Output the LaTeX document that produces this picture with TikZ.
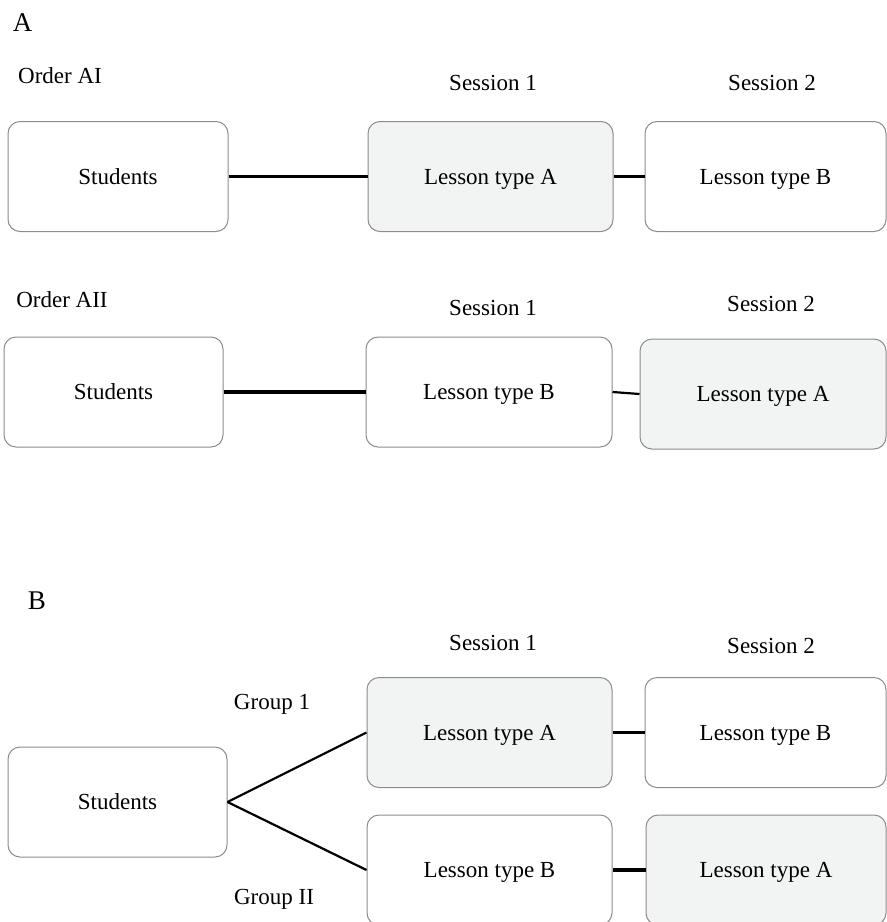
\documentclass[tikz,border=0pt]{standalone}
\usepackage{fontspec}
\setmainfont{Liberation Serif}
\definecolor{boxline}{HTML}{8C8C8C}
\definecolor{boxfill}{HTML}{F2F3F3}
\begin{document}
\begin{tikzpicture}[x=1pt,y=-1pt,
  box/.style={draw=boxline, line width=1pt, rounded corners=12pt, fill=white,
    minimum width=#1, minimum height=110pt, inner sep=0pt,
    text height=15.5pt, text depth=0pt,
    font=\fontsize{23}{27}\selectfont},
  box/.default=245pt,
  shaded/.style={fill=boxfill},
  lbl/.style={inner sep=0pt, text height=15.5pt, text depth=0pt,
    font=\fontsize{23}{27}\selectfont},
  panel/.style={inner sep=0pt, text height=18pt, text depth=0pt,
    font=\fontsize{27}{31}\selectfont},
  conn/.style={line width=3.2pt, black},
  thinconn/.style={line width=2.2pt, black}]
\useasboundingbox (0,0) rectangle (887,922);

% ---------- Panel A ----------
\node[panel] (labA) at (22.5,22) {A};

% Order AI
\node[lbl] (oA1) at (60,76) {Order AI};
\node[lbl] (s1a) at (493,83) {Session 1};
\node[lbl] (s2a) at (772,83) {Session 2};
\node[box=220pt] (stA1) at (118,176.5) {Students};
\node[box=245pt, shaded] (laA1) at (490.5,176.5) {Lesson type A};
\node[box=241pt] (lbA1) at (765.5,176.5) {Lesson type B};
\draw[conn] (stA1.east) -- (laA1.west);
\draw[conn] (laA1.east) -- (lbA1.west);

% Order AII
\node[lbl] (oA2) at (62,300) {Order AII};
\node[lbl] (s1b) at (493,308) {Session 1};
\node[lbl] (s2b) at (771,304) {Session 2};
\node[box=219pt] (stA2) at (113.5,392) {Students};
\node[box=246pt] (lbA2) at (489,392) {Lesson type B};
\node[box=246pt, shaded] (laA2) at (763,394) {Lesson type A};
\draw[conn] (stA2.east) -- (lbA2.west);
\draw[thinconn] (lbA2.east) -- (laA2.west);

% ---------- Panel B ----------
\node[panel] (labB) at (37,600) {B};
\node[lbl] (s1c) at (493,643) {Session 1};
\node[lbl] (s2c) at (771,646) {Session 2};
\node[lbl] (g1) at (272,702) {Group 1};
\node[lbl] (g2) at (274,897) {Group II};
\node[box=219pt] (stB) at (117.5,802) {Students};
\node[box=245pt, shaded] (laB1) at (489.5,732.5) {Lesson type A};
\node[box=241pt] (lbB1) at (765.5,732.5) {Lesson type B};
\node[box=245pt] (lbB2) at (489.5,870) {Lesson type B};
\node[box=240pt, shaded] (laB2) at (766,870) {Lesson type A};
\draw[thinconn] (stB.east) -- (laB1.west);
\draw[thinconn] (stB.east) -- (lbB2.west);
\draw[conn] (laB1.east) -- (lbB1.west);
\draw[conn] (lbB2.east) -- (laB2.west);
\end{tikzpicture}
\end{document}
